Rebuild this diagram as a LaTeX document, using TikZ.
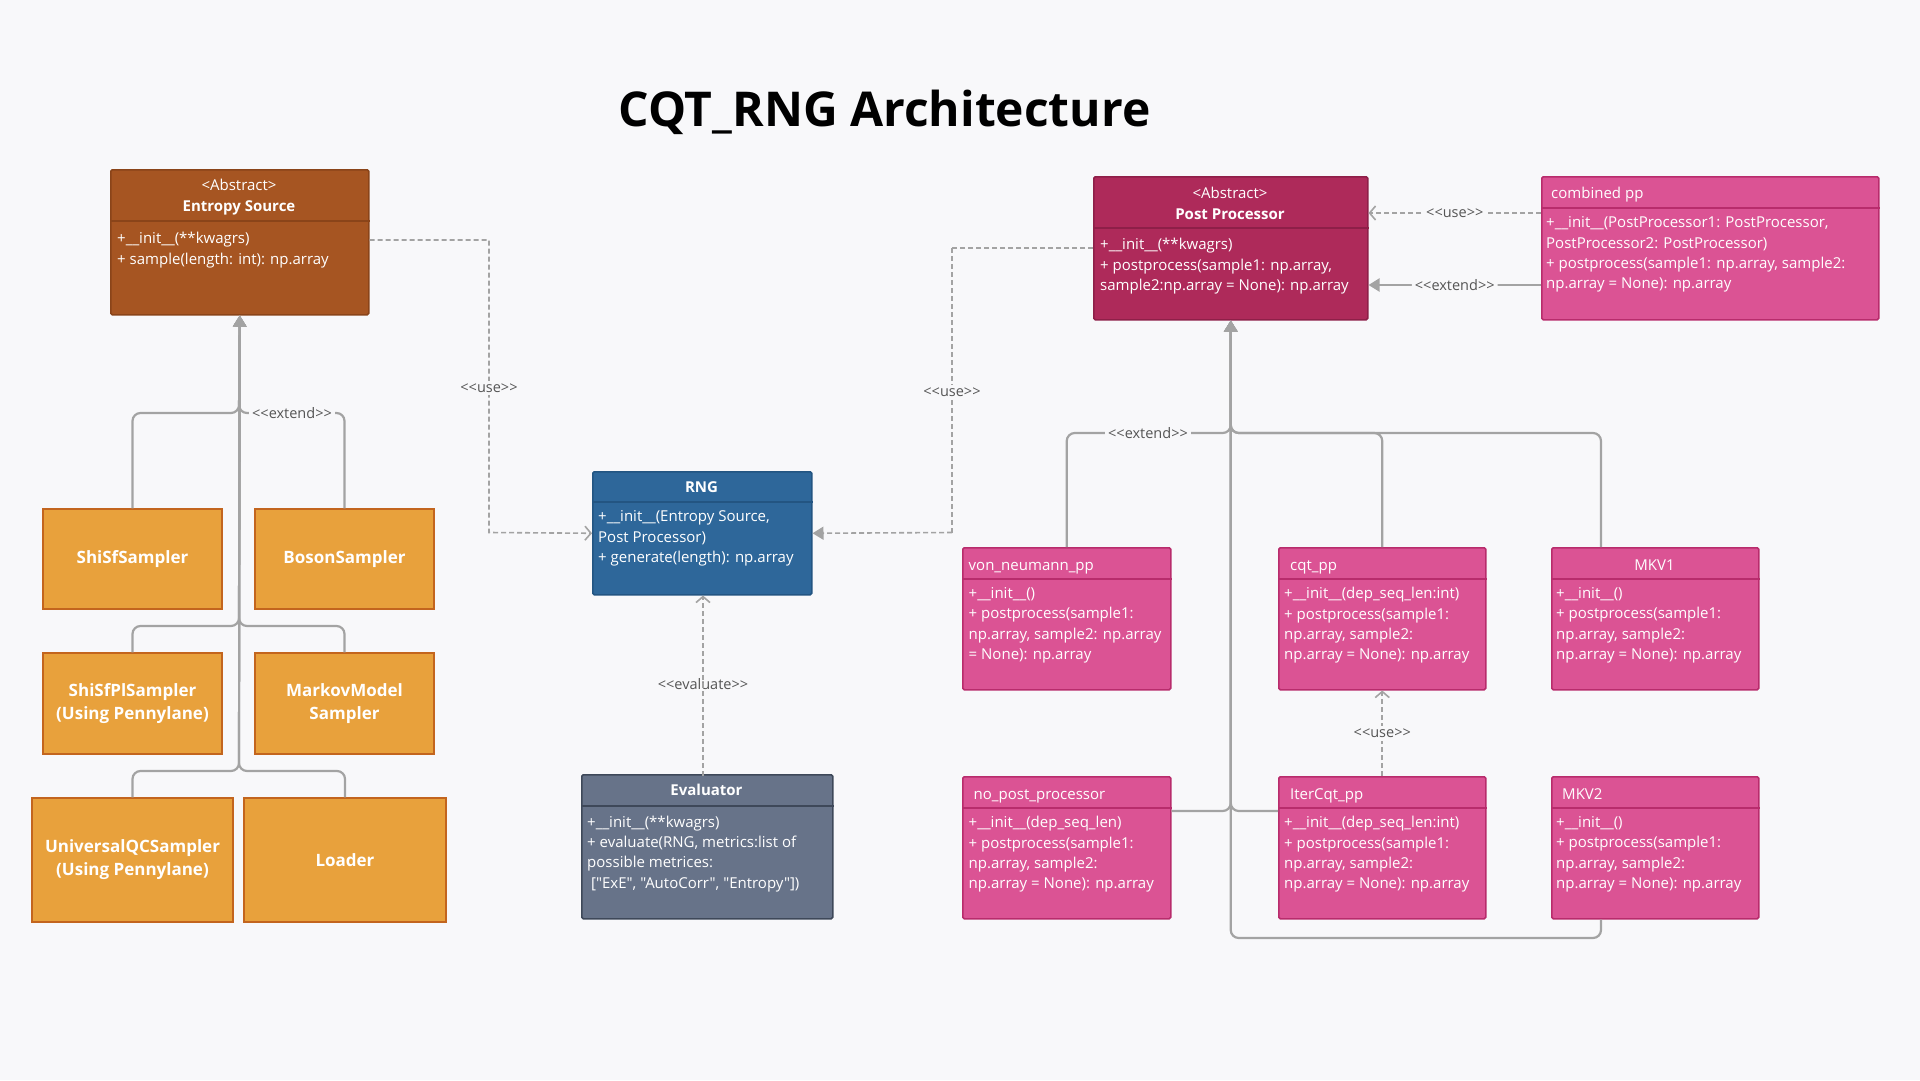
\documentclass[tikz,border=0pt]{standalone}
\usepackage{fontspec}
\setmainfont{Open Sans}
\newfontfamily\plainsans{Open Sans}
\usetikzlibrary{arrows.meta}

\definecolor{bg}{HTML}{F8F8FA}
\definecolor{esfill}{HTML}{A65522}
\definecolor{esline}{HTML}{8A4419}
\definecolor{smpfill}{HTML}{E8A13C}
\definecolor{smpline}{HTML}{C3651E}
\definecolor{rngfill}{HTML}{2E679A}
\definecolor{rngline}{HTML}{235582}
\definecolor{evfill}{HTML}{677389}
\definecolor{evline}{HTML}{3E4859}
\definecolor{ppfill}{HTML}{AE2A5A}
\definecolor{ppline}{HTML}{8E1F48}
\definecolor{subfill}{HTML}{DB5394}
\definecolor{subline}{HTML}{B82C6C}
\definecolor{lgray}{HTML}{A3A3A3}
\definecolor{lbltext}{HTML}{555555}

\tikzset{
  box/.style={draw, line width=1.5pt, rounded corners=1.5pt, anchor=north west, inner sep=0pt},
  smp/.style={draw=smpline, fill=smpfill, line width=1.5pt, inner sep=0pt, text=white, align=center, font=\plainsans\fontsize{17}{23}\selectfont\bfseries},
  members/.style={anchor=north west, align=left, inner sep=0pt, text=white, font=\plainsans\fontsize{15}{20.4}\selectfont},
  header/.style={inner sep=0pt, text=white, align=center, font=\plainsans\fontsize{15}{21}\selectfont},
  divider/.style={line width=2pt},
  extline/.style={draw=lgray, line width=2.2pt, rounded corners=8pt},
  exttip/.style={-{Triangle[length=11pt,width=13pt]}},
  usesline/.style={draw=lgray, line width=1.6pt, dash pattern=on 5pt off 3pt},
  usestip/.style={-{Straight Barb[length=6pt,width=14pt,line width=1.6pt]}},
  lbl/.style={fill=bg, text=lbltext, inner sep=3pt, font=\plainsans\fontsize{14.5}{16}\selectfont},
}

\begin{document}
\begin{tikzpicture}[x=1pt, y=-1pt]
\fill[bg] (0,0) rectangle (1920,1080);
\node[anchor=base, font=\fontsize{48}{56}\selectfont\bfseries] (heading) at (884.5,126) {CQT\_RNG Architecture};

% entropy source and samplers
\node[box, fill=esfill, draw=esline, minimum width=258pt, minimum height=145pt] (ent_src) at (110,169) {};
\draw[esline, divider] (ent_src.west |- 0,221) -- (ent_src.east |- 0,221);
\node[header] (ent_src_h) at (239,197) {<Abstract>\\\textbf{Entropy Source}};
\node[members] (ent_src_m) at (117,232) {\fontsize{15}{21.7}\selectfont+\_\_init\_\_(**kwagrs)\\+ sample(length: int): np.array};

\node[smp, minimum width=179pt, minimum height=100pt] (smp_1) at (132.5,559) {ShiSfSampler};
\node[smp, minimum width=179pt, minimum height=100pt] (smp_2) at (344.5,559) {BosonSampler};
\node[smp, minimum width=179pt, minimum height=101pt] (smp_3) at (132.5,703.5) {ShiSfPlSampler\\(Using Pennylane)};
\node[smp, minimum width=179pt, minimum height=101pt] (smp_4) at (344.5,703.5) {MarkovModel\\Sampler};
\node[smp, minimum width=201pt, minimum height=124pt] (smp_5) at (132.5,860) {UniversalQCSampler\\(Using Pennylane)};
\node[smp, minimum width=202pt, minimum height=124pt] (smp_6) at (345,860) {Loader};

\draw[extline, exttip] (smp_1.north) |- (239,413) -- (ent_src.south);
\draw[extline, exttip] (smp_2.north) |- (239,413) -- (ent_src.south);
\draw[extline, exttip] (smp_3.north) |- (239,626) -- (ent_src.south);
\draw[extline, exttip] (smp_4.north) |- (239,626) -- (ent_src.south);
\draw[extline, exttip] (smp_5.north) |- (239,771) -- (ent_src.south);
\draw[extline, exttip] (smp_6.north) |- (239,771) -- (ent_src.south);
\node[lbl] (ext_es) at (292,413) {<<extend>>};

% rng and evaluator
\node[box, fill=rngfill, draw=rngline, minimum width=219pt, minimum height=123pt] (rng) at (592,471) {};
\draw[rngline, divider] (rng.west |- 0,502) -- (rng.east |- 0,502);
\node[header, font=\plainsans\fontsize{15}{21}\selectfont\bfseries] (rng_h) at (701.5,487) {RNG};
\node[members] (rng_m) at (598,510.5) {+\_\_init\_\_(Entropy Source,\\Post Processor)\\+ generate(length): np.array};

\node[box, fill=evfill, draw=evline, minimum width=251pt, minimum height=144pt] (eval) at (581,774) {};
\draw[evline, divider] (eval.west |- 0,806) -- (eval.east |- 0,806);
\node[header, font=\plainsans\fontsize{15}{21}\selectfont\bfseries] (eval_h) at (706.5,790) {Evaluator};
\node[members] (eval_m) at (587,815.5) {+\_\_init\_\_(**kwagrs)\\+ evaluate(RNG, metrics:list of\\possible metrices:\\\hspace*{4pt}["ExE", "AutoCorr", "Entropy"])};

\draw[usesline, usestip] (ent_src.east |- 0,240) -- (489,240) -- (489,532.5) -- (rng.west);
\node[lbl] (use_es) at (489,388) {<<use>>};
\draw[usesline, exttip] (952,532.5) -- (rng.east);
\draw[usesline] (952,532.5) -- (952,248);
\node[lbl] (eval_lbl) at (703,684) {<<evaluate>>};
\draw[usesline, usestip] (rng.south -| 703,0) ++(0,180) -- (rng.south -| 703,0);

% post processor
\node[box, fill=ppfill, draw=ppline, minimum width=274pt, minimum height=143pt] (post_proc) at (1093,176) {};
\draw[ppline, divider] (post_proc.west |- 0,228) -- (post_proc.east |- 0,228);
\node[header] (post_proc_h) at (1230,203.5) {<Abstract>\\\textbf{Post Processor}};
\node[members] (post_proc_m) at (1100,238) {+\_\_init\_\_(**kwagrs)\\+ postprocess(sample1: np.array,\\sample2:np.array = None): np.array};
\draw[usesline] (post_proc.west |- 0,248) -- (952,248);
\node[lbl] (use_pp) at (952,392) {<<use>>};

\node[box, fill=subfill, draw=subline, minimum width=337pt, minimum height=143pt] (comb) at (1541,176) {};
\draw[subline, divider] (comb.west |- 0,208) -- (comb.east |- 0,208);
\node[header, anchor=base west] (comb_h) at (1551,198.5) {combined pp};
\node[members] (comb_m) at (1546,216.5) {+\_\_init\_\_(PostProcessor1: PostProcessor,\\PostProcessor2: PostProcessor)\\+ postprocess(sample1: np.array, sample2:\\np.array = None): np.array};
\draw[usesline, usestip] (comb.west |- 0,213) -- (post_proc.east |- 0,213) node[lbl, midway] (use_comb) {<<use>>};
\draw[extline, exttip] (comb.west |- 0,285) -- (post_proc.east |- 0,285) node[lbl, midway] (ext_comb) {<<extend>>};

% post processor subclasses
\node[box, fill=subfill, draw=subline, minimum width=208pt, minimum height=142pt] (von_pp) at (962,547) {};
\node[box, fill=subfill, draw=subline, minimum width=207pt, minimum height=142pt] (cqt_pp) at (1278,547) {};
\node[box, fill=subfill, draw=subline, minimum width=207pt, minimum height=142pt] (mkv_1) at (1551,547) {};
\node[box, fill=subfill, draw=subline, minimum width=208pt, minimum height=142pt] (no_pp) at (962,776) {};
\node[box, fill=subfill, draw=subline, minimum width=207pt, minimum height=142pt] (itr_pp) at (1278,776) {};
\node[box, fill=subfill, draw=subline, minimum width=207pt, minimum height=142pt] (mkv_2) at (1551,776) {};
\draw[subline, divider] (von_pp.west |- 0,579) -- (von_pp.east |- 0,579);
\draw[subline, divider] (cqt_pp.west |- 0,579) -- (cqt_pp.east |- 0,579);
\draw[subline, divider] (mkv_1.west |- 0,579) -- (mkv_1.east |- 0,579);
\draw[subline, divider] (no_pp.west |- 0,808) -- (no_pp.east |- 0,808);
\draw[subline, divider] (itr_pp.west |- 0,808) -- (itr_pp.east |- 0,808);
\draw[subline, divider] (mkv_2.west |- 0,808) -- (mkv_2.east |- 0,808);

\node[header, anchor=base west] (von_pp_h) at (968.5,570) {von\_neumann\_pp};
\node[header, anchor=base west] (cqt_pp_h) at (1290,570) {cqt\_pp};
\node[header, anchor=base] (mkv_1_h) at (1654.5,570) {MKV1};
\node[header, anchor=base west] (no_pp_h) at (973.5,799) {no\_post\_processor};
\node[header, anchor=base west] (itr_pp_h) at (1290,799) {IterCqt\_pp};
\node[header, anchor=base west] (mkv_2_h) at (1562,799) {MKV2};

\node[members] (von_pp_m) at (968.5,587) {+\_\_init\_\_()\\+ postprocess(sample1:\\np.array, sample2: np.array\\= None): np.array};
\node[members] (cqt_pp_m) at (1284,587) {+\_\_init\_\_(dep\_seq\_len:int)\\+ postprocess(sample1:\\np.array, sample2:\\np.array = None): np.array};
\node[members] (mkv_1_m) at (1556,587) {+\_\_init\_\_()\\+ postprocess(sample1:\\np.array, sample2:\\np.array = None): np.array};
\node[members] (no_pp_m) at (968.5,816) {+\_\_init\_\_(dep\_seq\_len)\\+ postprocess(sample1:\\np.array, sample2:\\np.array = None): np.array};
\node[members] (itr_pp_m) at (1284,816) {+\_\_init\_\_(dep\_seq\_len:int)\\+ postprocess(sample1:\\np.array, sample2:\\np.array = None): np.array};
\node[members] (mkv_2_m) at (1556,816) {+\_\_init\_\_()\\+ postprocess(sample1:\\np.array, sample2:\\np.array = None): np.array};

\draw[extline, exttip] (von_pp.north) |- (post_proc.south |- 0,433) -- (post_proc.south);
\draw[extline, exttip] (cqt_pp.north) |- (post_proc.south |- 0,433) -- (post_proc.south);
\draw[extline, exttip] ([xshift=50pt]mkv_1.north west) |- (post_proc.south |- 0,433) -- (post_proc.south);
\draw[extline, exttip] (no_pp.east |- 0,811) -- (post_proc.south |- 0,811) -- (post_proc.south);
\draw[extline, exttip] (itr_pp.west |- 0,811) -- (post_proc.south |- 0,811) -- (post_proc.south);
\draw[extline, exttip] ([xshift=50pt]mkv_2.south west) |- (post_proc.south |- 0,938) -- (post_proc.south);
\node[lbl] (ext_pp) at (1148,433) {<<extend>>};

\draw[usesline, usestip] (itr_pp.north) -- (cqt_pp.south) node[lbl, midway] (use_itr) {<<use>>};
\end{tikzpicture}
\end{document}
